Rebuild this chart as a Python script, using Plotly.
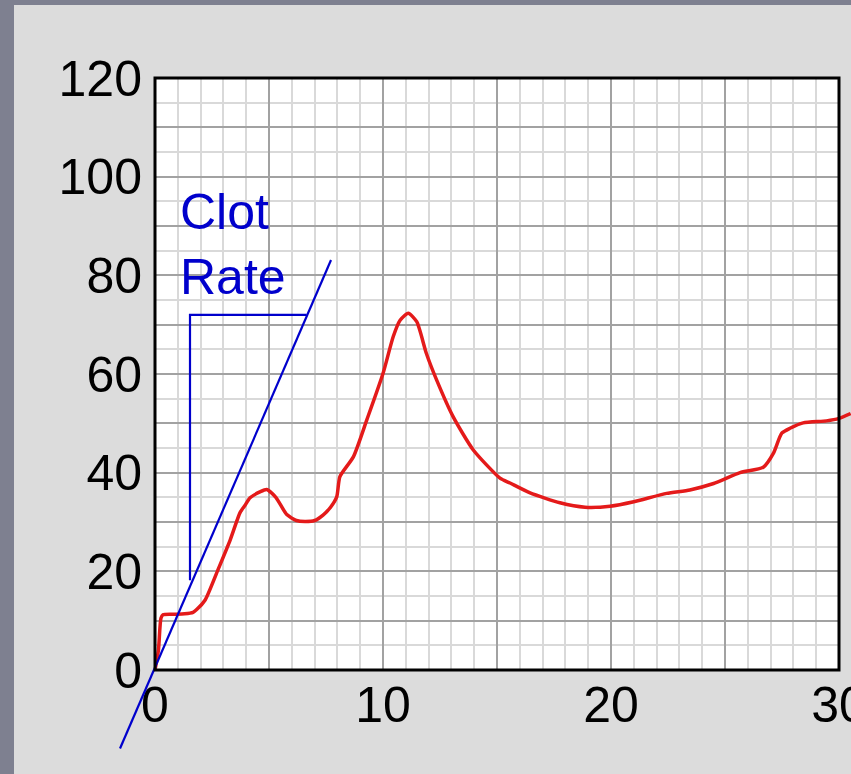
import plotly.graph_objects as go

# ---- data ----
time_min = [0, 0.15, 0.26, 0.35, 0.8, 1.3, 1.67, 1.84, 2.2, 2.76, 3.3, 3.73, 3.95, 4.17, 4.6, 4.9,
            5.3, 5.78, 6.2, 6.58, 7.0, 7.37, 7.7, 7.97, 8.11, 8.7, 9.29, 10.0, 10.45, 10.75,
            11.11, 11.48, 11.9, 12.35, 13.08, 13.96, 15.13, 15.57, 16.45, 17.76, 18.86, 19.96,
            21.0, 22.44, 23.46, 24.5, 25.66, 26.68, 27.12, 27.49, 27.85, 28.43, 29.45, 30.0, 30.51]
signal = [0, 4, 10.5, 11.2, 11.3, 11.4, 11.7, 12.3, 14.2, 20.3, 26.4, 31.9, 33.4, 34.9, 36.1, 36.6,
          35.0, 31.5, 30.3, 30.1, 30.3, 31.4, 33.0, 35.1, 39.2, 43.2, 50.7, 60.1, 67.6, 70.9,
          72.3, 70.6, 64.2, 58.8, 51.3, 44.6, 38.9, 37.9, 35.9, 33.9, 33.0, 33.2,
          34.1, 35.8, 36.5, 37.8, 40.0, 41.1, 43.9, 48.0, 49.0, 50.1, 50.5, 51.0, 52.0]

tangent_x = [-1.535, 7.72]
tangent_y = [-15.9, 83.1]
bracket_x = [6.65, 1.535, 1.535]
bracket_y = [72.0, 72.0, 18.2]

x_tickvals = [0, 5, 10, 15, 20, 25, 30]
x_ticktext = ["0", "", "10", "", "20", "", "30"]
y_tickvals = [0, 10, 20, 30, 40, 50, 60, 70, 80, 90, 100, 110, 120]
y_ticktext = ["0", "", "20", "", "40", "", "60", "", "80", "", "100", "", "120"]
label_text = "Clot<br>Rate"

# ---- geometry ----
W, H = 851, 774
L, R, T, B = 155, 839, 78, 670
XMAX, YMAX = 30, 120
xs = (R - L) / XMAX
ys = (B - T) / YMAX

PAPER = "#dcdcdc"
DARK = "#7e8090"
BLUE = "#0000cc"
RED = "#e41a1a"
FONT = "Liberation Sans, Arial, Helvetica, sans-serif"

fig = go.Figure()

fig.add_trace(go.Scatter(x=time_min, y=signal, mode="lines",
                         line=dict(color=RED, width=3.5, shape="spline", smoothing=0.6),
                         xaxis="x", yaxis="y", hoverinfo="skip"))

fig.add_trace(go.Scatter(x=tangent_x, y=tangent_y, mode="lines",
                         line=dict(color=BLUE, width=2.2), xaxis="x2", yaxis="y2", hoverinfo="skip"))
fig.add_trace(go.Scatter(x=bracket_x, y=bracket_y, mode="lines",
                         line=dict(color=BLUE, width=2.2), xaxis="x2", yaxis="y2", hoverinfo="skip"))

grid_major = "#a2a2a2"
grid_minor = "#d9d9d9"

fig.update_layout(
    width=W, height=H, autosize=False,
    margin=dict(l=0, r=0, t=0, b=0, pad=0, autoexpand=False),
    paper_bgcolor=PAPER,
    plot_bgcolor="rgba(0,0,0,0)",
    showlegend=False,
    font=dict(family=FONT, color="black", size=50),
    xaxis=dict(domain=[L / W, 1], range=[0, (W - L) / xs], tickvals=x_tickvals, ticktext=x_ticktext,
               showgrid=True, gridcolor=grid_major, gridwidth=2, zeroline=False, showline=False,
               ticks="", ticklabelstandoff=1, tickfont=dict(size=50), automargin=False,
               ticklabeloverflow="allow",
               minor=dict(dtick=1, showgrid=True, gridcolor=grid_minor, gridwidth=2),
               fixedrange=True),
    yaxis=dict(domain=[(H - B) / H, (H - T) / H], range=[0, YMAX], tickvals=y_tickvals, ticktext=y_ticktext,
               showgrid=True, gridcolor=grid_major, gridwidth=2, zeroline=False, showline=False,
               ticks="", ticklabelstandoff=12, tickfont=dict(size=50), automargin=False,
               ticklabeloverflow="allow",
               minor=dict(dtick=5, showgrid=True, gridcolor=grid_minor, gridwidth=2),
               fixedrange=True),
    xaxis2=dict(domain=[0, 1], range=[-L / xs, (W - L) / xs], visible=False, anchor="y2", automargin=False),
    yaxis2=dict(domain=[0, 1], range=[-(H - B) / ys, YMAX + T / ys], visible=False, anchor="x2", automargin=False),
)

shapes = [
    # white plotting area
    dict(type="rect", xref="x", yref="y", x0=0, x1=XMAX, y0=0, y1=YMAX,
         fillcolor="white", line=dict(width=0), layer="below"),
    # gray area right of x=30 (over the grid, under the curve)
    dict(type="rect", xref="x", yref="y", x0=XMAX, x1=XMAX + 5, y0=-10, y1=YMAX + 10,
         fillcolor=PAPER, line=dict(width=0), layer="between"),
    # frame
    dict(type="rect", xref="x2", yref="y2", x0=0, x1=XMAX, y0=0, y1=YMAX,
         line=dict(color="black", width=3), fillcolor="rgba(0,0,0,0)", layer="above"),
    # dark window edges
    dict(type="rect", xref="paper", yref="paper", x0=0, x1=14 / W, y0=0, y1=1,
         fillcolor=DARK, line=dict(width=0), layer="below"),
    dict(type="rect", xref="paper", yref="paper", x0=0, x1=1, y0=1 - 5 / H, y1=1,
         fillcolor=DARK, line=dict(width=0), layer="below"),
]
fig.update_layout(shapes=shapes)

fig.add_annotation(x=1.0, y=(B - 182) / ys, xref="x", yref="y", text=label_text,
                   showarrow=False, xanchor="left", yanchor="top", align="left",
                   font=dict(family=FONT, size=50, color=BLUE))

fig.write_html("out.html", config={"displayModeBar": False, "staticPlot": True},
               post_script="document.body.style.margin='0';document.body.style.overflow='hidden';")
